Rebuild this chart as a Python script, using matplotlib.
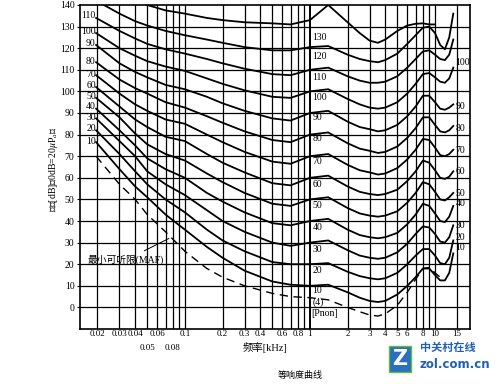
import numpy as np
import matplotlib
matplotlib.use('Agg')
import matplotlib.pyplot as plt

plt.rcParams['font.family'] = ['Liberation Serif', 'Noto Sans CJK SC', 'DejaVu Sans']
plt.rcParams['mathtext.fontset'] = 'stix'

# frequency grid (kHz) the contours were read at
freq = [0.0195, 0.03, 0.04, 0.05, 0.07, 0.1, 0.15, 0.2, 0.3, 0.5, 0.7, 1.0, 1.4,
        2.0, 2.5, 3.0, 3.5, 4.0, 5.0, 6.0, 7.0, 8.0, 9.0, 10.0, 11.0, 12.0, 13.0, 14.0]
nan = float('nan')

phon_130 = [150, 146, 142, 140, 137.5, 136, 134, 133, 132, 131.5, 131, 133, 140,
            132, 127, 123.5, 122.5, 124, 128, 130.5, 131.3, 131.5, 131, 131, nan, nan, nan, nan]
phon_120 = [142, 136, 132.5, 130.5, 128, 126, 124, 122.5, 120.5, 119, 119, 120.5, 121,
            117, 115, 114, 113.5, 114.5, 117.5, 122, 126, 129.5, 130, 127, 121.5, 119.5, 125, 136]
phon_110 = [134, 128, 124.5, 122, 119.5, 117.5, 115, 113, 110.5, 108, 107.5, 110, 111,
            107, 105, 104, 104, 104.5, 107, 111, 115, 118.5, 119, 117, 115, 114.5, 117, 124]
phon_100 = [127, 120, 116.5, 114, 111.5, 109.5, 106, 103.5, 100.5, 97.5, 97, 100, 101,
            96.5, 94, 92.5, 92, 92.5, 95, 99, 103.5, 108, 108.5, 106.5, 104.5, 104, 106, 111]
phon_90 = [121.5, 113, 109, 106.5, 103, 101, 97.5, 94.5, 91, 87.5, 86.5, 90, 91,
           86, 83.5, 82.5, 81.5, 82, 84.5, 88.5, 93, 98, 98, 95, 92, 91.5, 92.5, 94]
phon_80 = [113.5, 105.5, 101.5, 99, 95, 92.5, 88.5, 85.5, 81.5, 77.5, 76.5, 80, 81,
           76, 73.5, 72.5, 71.5, 72, 74.5, 78.5, 83, 88, 88, 84.5, 81.5, 81, 82, 84]
phon_70 = [107.5, 99, 94, 91, 87, 85, 80, 76.5, 72, 67.5, 66.5, 70, 71,
           66, 63.5, 62.5, 61.5, 62, 64.5, 68.5, 73, 78, 77.5, 74, 70.5, 70, 71, 73]
phon_60 = [102, 93, 87, 83.5, 79, 77, 71, 67, 62.5, 57.5, 56.5, 60, 61,
           56, 53.5, 52.5, 52, 52.5, 54.5, 58.5, 63, 68, 67, 63.5, 60, 59.5, 60.5, 63]
phon_50 = [97, 88, 80.5, 75.5, 71, 68, 62, 58, 53, 48, 47, 50, 51,
           46, 43.5, 42.5, 42, 42.5, 44.5, 48.5, 53, 58, 57, 53.5, 50, 49.5, 51, 53]
phon_40 = [92, 82, 75, 69, 64, 60, 53, 49, 44, 39, 38, 40, 41,
           36, 33.5, 32.5, 32, 32.5, 34.5, 38.5, 43, 48, 47, 43.5, 40, 39.5, 42, 47]
phon_30 = [87.5, 77, 70, 63, 57, 52, 45, 40, 35, 30, 28.5, 30, 31,
           26.5, 24, 23, 22.5, 23, 25.5, 29.5, 34, 37.5, 37, 34, 30.5, 30, 32.5, 38]
phon_20 = [82, 71, 63, 57, 50, 44, 36, 31, 26, 21, 20, 20, 20.5,
           16.5, 14.5, 13.5, 13, 13.5, 16, 20, 24, 27, 27, 24, 20.5, 20, 23, 31]
phon_10 = [76.5, 64, 56, 51, 43, 36, 28, 23, 17, 12, 10.5, 10, 10.5,
           7, 4.5, 3, 2.5, 3, 6, 10, 14, 18, 18, 15, 12.5, 12.5, 16, 25]
maf = [70, 57, 50, 43, 35, 26, 18, 14, 10, 6.5, 5, 4.5, 3.5,
       0, -2, -3.5, -4, -3, 1, 7, 13, 18, 18.5, 16, 14, 14, nan, nan]

curves = [phon_130, phon_120, phon_110, phon_100, phon_90, phon_80, phon_70,
          phon_60, phon_50, phon_40, phon_30, phon_20, phon_10]

left_labels = ['110', '100', '90', '80', '70', '60', '50', '40', '30', '20', '10']
left_label_y = [135, 127.5, 122, 114, 108, 102.5, 97.5, 93, 88, 83, 77]
mid_labels = ['130', '120', '110', '100', '90', '80', '70', '60', '50', '40', '30', '20']
mid_label_y = [125, 116, 106.5, 97, 88, 78, 67.5, 57, 47, 37, 27, 17]
right_labels = ['100', '90', '80', '70', '60', '50', '40', '30', '20', '10']
right_label_y = [113.5, 93, 83, 72.8, 62.7, 52.8, 48, 38, 32.4, 27.8]

xticks_major = [0.02, 0.03, 0.04, 0.05, 0.06, 0.08, 0.1, 0.2, 0.3, 0.4, 0.6, 0.8,
                1, 2, 3, 4, 5, 6, 8, 10, 15]
xtick_labels = ['0.02', '0.03', '0.04', '\n0.05', '0.06', '\n0.08', '0.1', '0.2', '0.3',
                '0.4', '0.6', '0.8', '1', '2', '3', '4', '5', '6', '8', '10', '15']
vgrid = [0.02, 0.03, 0.04, 0.05, 0.06, 0.07, 0.08, 0.09, 0.1, 0.2, 0.3, 0.4, 0.5,
         0.6, 0.7, 0.8, 0.9, 1, 2, 3, 4, 5, 6, 7, 8, 9, 10, 15]

fig = plt.figure(figsize=(5, 3.84), dpi=100)
ax = fig.add_axes([0.16, 0.1432, 0.78, 0.8438])
ax.set_xscale('log')
ax.set_xlim(0.0145, 19.05)
ax.set_ylim(-10, 140)

for f in vgrid:
    ax.axvline(f, color='black', linewidth=1.4 if f == 1 else 0.9, zorder=1)
for d in range(0, 140, 10):
    ax.axhline(d, color='black', linewidth=0.9, zorder=1)

for c in curves:
    ax.plot(freq, c, color='black', linewidth=1.3, zorder=3)
ax.plot(freq, maf, color='black', linewidth=1.0, dashes=(6, 4), zorder=3)

for s, y in zip(left_labels, left_label_y):
    ax.text(0.0194, y, s, fontsize=7, ha='right', va='center', zorder=4)
for s, y in zip(mid_labels, mid_label_y):
    ax.text(1.05, y, s, fontsize=7, ha='left', va='center', zorder=4)
ax.text(1.05, 8, '10', fontsize=7, ha='left', va='center', zorder=4)
ax.text(1.05, 2.5, '(4)', fontsize=7, ha='left', va='center', zorder=4)
ax.text(1.03, -3, '[Pnon]', fontsize=7, ha='left', va='center', zorder=4)
for s, y in zip(right_labels, right_label_y):
    ax.text(14.6, y, s, fontsize=7, ha='left', va='center', zorder=4)

ax.annotate('最小可听限(MAF)', xy=(0.078, 32.5), xytext=(0.0168, 22),
            fontsize=7, va='center', ha='left',
            arrowprops=dict(arrowstyle='-', color='black', linewidth=0.7))

ax.set_xticks(xticks_major)
ax.set_xticklabels(xtick_labels)
ax.xaxis.set_minor_locator(matplotlib.ticker.NullLocator())
for lbl in ax.get_xticklabels():
    lbl.set_linespacing(1.9)
ax.set_yticks(range(0, 150, 10))
ax.tick_params(axis='x', labelsize=6.5, length=0, pad=1)
ax.tick_params(axis='y', labelsize=7, length=2, width=0.8, pad=2)
for sp in ax.spines.values():
    sp.set_linewidth(1.2)

fig.text(0.53, 0.094, '频率[kHz]', fontsize=7.5, ha='center', va='center')
fig.text(0.106, 0.56, '声压[dB]（0dB=20$\\mu$P$_a$）', fontsize=7, rotation=90,
         ha='center', va='center')
fig.text(0.6, 0.023, '等响度曲线', fontsize=6.5, ha='center', va='center')

# watermark logo
fig.text(0.8, 0.065, 'Z', fontsize=15, fontweight='bold', color='white',
         family='DejaVu Sans', ha='center', va='center',
         bbox=dict(boxstyle='square,pad=0.15', facecolor='#2a6fc0', edgecolor='#5fbf3a'))
fig.text(0.84, 0.095, '中关村在线', fontsize=8, color='#1f5fb5', fontweight='bold',
         ha='left', va='center', family=['Noto Sans CJK SC'])
fig.text(0.84, 0.052, 'zol.com.cn', fontsize=8.5, color='#1f5fb5', fontweight='bold',
         ha='left', va='center', family='DejaVu Sans')

fig.savefig('out.png', dpi=100)
